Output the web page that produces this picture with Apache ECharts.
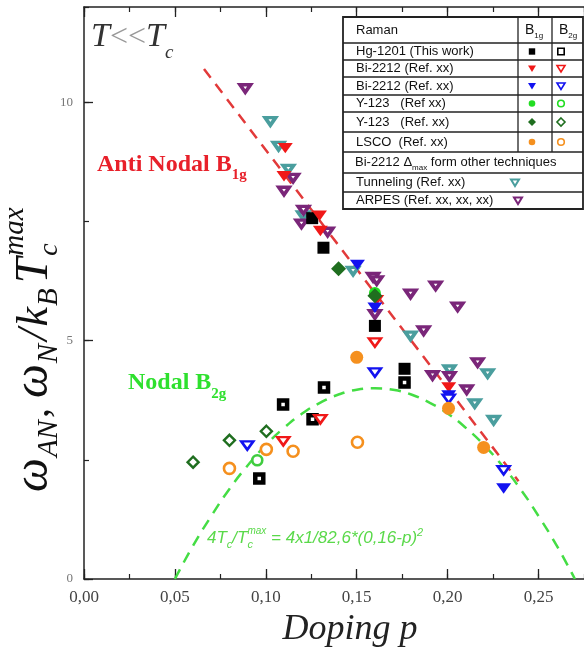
<!DOCTYPE html>
<html><head><meta charset="utf-8">
<script src="https://cdn.jsdelivr.net/npm/echarts@6/dist/echarts.min.js"></script>
<style>html,body{margin:0;padding:0;background:#fff}#c{width:584px;height:655px}</style>
</head><body><div id="c"></div>
<script>
// ---------------- data ----------------
const xTickLabels = ['0,00','0,05','0,10','0,15','0,20','0,25'];
const yTickLabels = ['0','5','10'];
const legendNames = ['Hg-1201 (This work)','Bi-2212 (Ref. xx)','Bi-2212 (Ref. xx)','Y-123   (Ref xx)','Y-123   (Ref. xx)','LSCO  (Ref. xx)'];
const otherNames = ['Tunneling (Ref. xx)','ARPES (Ref. xx, xx, xx)'];

const hgB1g   = [[0.1255,7.57],[0.1317,6.95],[0.160,5.31],[0.1763,4.41]];
const hgB2g   = [[0.132,4.02],[0.1095,3.66],[0.1257,3.35],[0.1763,4.12],[0.0964,2.11]];
const biRedB1g  = [[0.1107,9.04],[0.110,8.45],[0.1295,7.62],[0.130,7.30],[0.161,5.85],[0.2006,4.02]];
const biRedB2g  = [[0.160,4.96],[0.130,3.35],[0.1096,2.89]];
const biBlueB1g = [[0.1504,6.59],[0.160,5.69],[0.2006,3.85],[0.2308,1.90]];
const biBlueB2g = [[0.160,4.33],[0.0898,2.80],[0.2006,3.78],[0.2308,2.28]];
const y123aB1g  = [[0.160,6.0]];
const y123aB2g  = [[0.0953,2.49]];
const y123bB1g  = [[0.140,6.51],[0.160,5.94]];
const y123bB2g  = [[0.1003,3.10],[0.080,2.91],[0.060,2.45]];
const lscoB1g   = [[0.150,4.65],[0.2005,3.58],[0.2198,2.76]];
const lscoB2g   = [[0.1003,2.72],[0.115,2.68],[0.1504,2.87],[0.080,2.32]];
const tunneling = [[0.1025,9.60],[0.107,9.08],[0.1124,8.60],[0.1205,7.62],[0.148,6.46],[0.1796,5.10],[0.201,4.39],[0.222,4.31],[0.2149,3.68],[0.2253,3.33]];
const arpes     = [[0.0887,10.29],[0.115,8.41],[0.110,8.14],[0.1207,7.74],[0.1196,7.45],[0.134,7.28],[0.159,6.33],[0.161,6.26],[0.160,5.55],[0.1796,5.98],[0.1934,6.15],[0.2055,5.71],[0.1868,5.21],[0.1917,4.27],[0.201,4.25],[0.2165,4.54],[0.2105,3.97]];
const antiNodalFit = [[0.066,10.70],[0.239,2.05]];
const nodalFit = [[0.05,0],[0.06,0.70],[0.07,1.32],[0.08,1.89],[0.09,2.38],[0.10,2.81],[0.11,3.17],[0.12,3.47],[0.13,3.70],[0.14,3.87],[0.15,3.97],[0.16,4.00],[0.17,3.97],[0.18,3.87],[0.19,3.70],[0.20,3.47],[0.21,3.17],[0.22,2.81],[0.23,2.38],[0.24,1.89],[0.25,1.32],[0.26,0.70],[0.27,0]];

// ---------------- styles ----------------
const C = {red:'#f01818', blue:'#1212f0', lg:'#22dd22', dg:'#1f6e1f', orange:'#f5901e', teal:'#4a9e9e', purple:'#7a2679', black:'#000'};
const TRI = 'path://M0,0L12,0L6,10Z';
const DIA = 'path://M5,0L10,5L5,10L0,5Z';

function filled(name, data, color, symbol, size){
  return {name, type:'scatter', data, symbol, symbolSize:size, symbolKeepAspect:true,
    itemStyle:{color, opacity:1}, z:5};
}
function open(name, data, color, symbol, size, bw){
  return {name, type:'scatter', data, symbol, symbolSize:size, symbolKeepAspect:true,
    itemStyle:{color:'#fff', borderColor:color, borderWidth:bw, opacity:1}, z:5};
}

const series = [
  {type:'line', data:antiNodalFit, showSymbol:false, symbol:'none', lineStyle:{color:'#e23a3a', width:2.5, type:[11,8]}, z:3},
  {type:'line', data:nodalFit, smooth:true, showSymbol:false, symbol:'none', lineStyle:{color:'#44dd44', width:2.5, type:[11,8]}, z:3},
  open('Tunneling', tunneling, C.teal, TRI, [10.5,9], 3.6),
  open('ARPES', arpes, C.purple, TRI, [10.5,9], 3.6),
  filled('Hg B1g', hgB1g, C.black, 'rect', 12),
  open('Hg B2g', hgB2g, C.black, 'rect', 8, 4.5),
  filled('Bi red B1g', biRedB1g, C.red, TRI, [15,12.5]),
  open('Bi red B2g', biRedB2g, C.red, TRI, [12,10], 2.6),
  filled('Bi blue B1g', biBlueB1g, C.blue, TRI, [15,12.5]),
  open('Bi blue B2g', biBlueB2g, C.blue, TRI, [12,10], 2.6),
  filled('Y123a B1g', y123aB1g, C.lg, 'circle', 12),
  open('Y123a B2g', y123aB2g, '#3fcc3f', 'circle', 10, 2.6),
  filled('Y123b B1g', y123bB1g, C.dg, DIA, 15),
  open('Y123b B2g', y123bB2g, C.dg, DIA, 11, 2.4),
  filled('LSCO B1g', lscoB1g, C.orange, 'circle', 13),
  open('LSCO B2g', lscoB2g, C.orange, 'circle', 11, 2.6)
];

// ---------------- text helpers ----------------
const mctx = document.createElement('canvas').getContext('2d');
function fontStr(p){ return (p.st||'normal')+' '+(p.w||'normal')+' '+p.s+'px '+p.f; }
function tw(t, p){ mctx.font = fontStr(p); return mctx.measureText(t).width; }
function run(pieces, x0, base, color, out){
  let x = x0, lastX = x0;
  pieces.forEach(p => {
    const px = p.stack ? lastX : x;
    out.push({type:'text', x:px, y:base + (p.dy||0) - 0.32*p.s, z:100,
      style:{text:p.t, fontFamily:p.f, fontSize:p.s, fontStyle:p.st||'normal', fontWeight:p.w||'normal',
        fill:p.c||color, align:'left', verticalAlign:'middle'}});
    lastX = px;
    x = Math.max(x, px + tw(p.t, p) + (p.g||0));
  });
  return x;
}
const SERIF = '"Liberation Serif", "Times New Roman", serif';
const SANS = '"Liberation Sans", Arial, sans-serif';

const G = [];
// T<<Tc
run([
  {t:'T', s:34, f:SERIF, st:'italic', c:'#333'},
  {t:'<<', s:32, f:SERIF, c:'#999'},
  {t:'T', s:34, f:SERIF, st:'italic', c:'#333'},
  {t:'c', s:19, f:SERIF, st:'italic', c:'#333', dy:11}
], 91, 48, '#333', G);
// Anti Nodal B1g
run([
  {t:'Anti Nodal B', s:24, f:SERIF, w:'bold'},
  {t:'1g', s:15, f:SERIF, w:'bold', dy:8}
], 97, 172, '#e8202a', G);
// Nodal B2g
run([
  {t:'Nodal B', s:24, f:SERIF, w:'bold'},
  {t:'2g', s:15, f:SERIF, w:'bold', dy:9}
], 128, 390, '#2ee02e', G);
// formula
run([
  {t:'4T', s:17, f:SANS, st:'italic'},
  {t:'c', s:11, f:SANS, st:'italic', dy:4},
  {t:'/T', s:17, f:SANS, st:'italic'},
  {t:'c', s:11, f:SANS, st:'italic', dy:4},
  {t:'max', s:10, f:SANS, st:'italic', dy:-10, stack:true},
  {t:' = 4x1/82,6*(0,16-p)', s:17, f:SANS, st:'italic'},
  {t:'2', s:11, f:SANS, st:'italic', dy:-8}
], 207, 544, '#5ad94a', G);
// x title
(function(){
  const p = {t:'Doping p', s:36, f:SERIF, st:'italic'};
  const w = tw(p.t, p);
  run([p], 350 - w/2, 641, '#222', G);
})();
// y title (rotated)
(function(){
  const kids = [];
  run([
    {t:'ω', s:48, f:SERIF, st:'italic', g:1},
    {t:'AN', s:29, f:SERIF, st:'italic', dy:9, g:2},
    {t:',', s:40, f:SERIF, g:10},
    {t:'ω', s:48, f:SERIF, st:'italic', g:1},
    {t:'N', s:29, f:SERIF, st:'italic', dy:9, g:3},
    {t:'/', s:44, f:SERIF, st:'italic', g:2},
    {t:'k', s:44, f:SERIF, st:'italic', g:1},
    {t:'B', s:29, f:SERIF, st:'italic', dy:9, g:5},
    {t:'T', s:46, f:SERIF, st:'italic', g:2},
    {t:'c', s:28, f:SERIF, st:'italic', dy:9},
    {t:'max', s:29, f:SERIF, st:'italic', dy:-25, stack:true}
  ], 0, 0, '#111', kids);
  G.push({type:'group', x:50, y:492, rotation:Math.PI/2, children:kids, z:100});
})();

// legend table
(function(){
  const L=343, R=583, col1=518, col2=552;
  const rows=[17,43,60,77,95,112,132,152,173,192,209];
  const ln = {stroke:'#222', lineWidth:1.3};
  G.push({type:'rect', shape:{x:L,y:rows[0],width:R-L,height:rows[10]-rows[0]}, style:{fill:'#fff', stroke:'#222', lineWidth:1.8}, z:90});
  for (let i=1;i<10;i++) G.push({type:'line', shape:{x1:L,y1:rows[i],x2:R,y2:rows[i]}, style:ln, z:91});
  G.push({type:'line', shape:{x1:col1,y1:rows[0],x2:col1,y2:rows[7]}, style:ln, z:91});
  G.push({type:'line', shape:{x1:col2,y1:rows[0],x2:col2,y2:rows[7]}, style:ln, z:91});
  const f = {s:13, f:SANS, c:'#111'};
  const mid = i => (rows[i]+rows[i+1])/2;
  run([{t:'Raman', ...f}], 356, mid(0)+4.5, '#111', G);
  run([{t:'B', s:14, f:SANS},{t:'1g', s:8, f:SANS, dy:3}], 525, mid(0)+5, '#111', G);
  run([{t:'B', s:14, f:SANS},{t:'2g', s:8, f:SANS, dy:3}], 559, mid(0)+5, '#111', G);
  legendNames.forEach((n,i)=> run([{t:n, ...f}], 356, mid(i+1)+4.5, '#111', G));
  run([{t:'Bi-2212 ', ...f},{t:'Δ', ...f},{t:'max', s:8, f:SANS, dy:4},{t:' form other techniques', ...f}], 355, mid(7)+4, '#111', G);
  otherNames.forEach((n,i)=> run([{t:n, ...f}], 356, mid(8+i)+4.5, '#111', G));
  // markers
  const mk = (kind, cx, cy, color, isOpen) => {
    const st = isOpen ? {fill:'#fff', stroke:color, lineWidth:1.6} : {fill:color};
    let el;
    if (kind==='sq') el = {type:'rect', shape:{x:cx-3.2,y:cy-3.2,width:6.4,height:6.4}};
    else if (kind==='tri') el = {type:'polygon', shape:{points:[[cx-4,cy-3],[cx+4,cy-3],[cx,cy+3.5]]}};
    else if (kind==='cir') el = {type:'circle', shape:{cx,cy,r:3.3}};
    else el = {type:'polygon', shape:{points:[[cx,cy-4],[cx+4,cy],[cx,cy+4],[cx-4,cy]]}};
    el.style = st; el.z = 95; G.push(el);
  };
  const kinds = [['sq',C.black],['tri',C.red],['tri',C.blue],['cir',C.lg],['dia',C.dg],['cir',C.orange]];
  kinds.forEach((k,i)=>{ mk(k[0],532,mid(i+1),k[1],false); mk(k[0],561,mid(i+1),k[1],true); });
  const mkOT = (cx, cy, color) => G.push({type:'polygon', shape:{points:[[cx-4,cy-3],[cx+4,cy-3],[cx,cy+3.5]]}, style:{fill:'#fff', stroke:color, lineWidth:2}, z:95});
  mkOT(515, mid(8), C.teal);
  mkOT(518, mid(9), C.purple);
})();

// ---------------- chart ----------------
const axLine = {show:true, onZero:false, lineStyle:{color:'#222', width:1.5}};
const noLine = {show:false, onZero:false};
const grid = {left:84, top:7, right:0, bottom:76, containLabel:false};
const chart = echarts.init(document.getElementById('c'), null, {renderer:'canvas'});
chart.setOption({
  animation:false,
  backgroundColor:'#fff',
  grid:[Object.assign({},grid), Object.assign({},grid)],
  xAxis:[
    {gridIndex:0, type:'value', position:'bottom', min:0, max:0.275, interval:0.05, axisLine:axLine,
      axisTick:{inside:true, length:10, lineStyle:{color:'#222', width:1.3}}, splitLine:{show:false},
      axisLabel:{margin:10, fontFamily:SERIF, fontSize:17, color:'#444', showMaxLabel:false,
        formatter:v=>{const i=Math.round(v/0.05); return Math.abs(v-i*0.05)<1e-9 ? (xTickLabels[i]||'') : '';}}},
    {gridIndex:0, type:'value', position:'top', min:0, max:0.275, interval:0.05, axisLine:axLine,
      axisTick:{inside:true, length:10, lineStyle:{color:'#222', width:1.3}}, splitLine:{show:false}, axisLabel:{show:false}},
    {gridIndex:1, type:'value', position:'bottom', min:0, max:0.275, interval:0.025, axisLine:noLine,
      axisTick:{inside:true, length:5, lineStyle:{color:'#222', width:1.2}}, splitLine:{show:false}, axisLabel:{show:false}},
    {gridIndex:1, type:'value', position:'top', min:0, max:0.275, interval:0.025, axisLine:noLine,
      axisTick:{inside:true, length:5, lineStyle:{color:'#222', width:1.2}}, splitLine:{show:false}, axisLabel:{show:false}}
  ],
  yAxis:[
    {gridIndex:0, type:'value', position:'left', min:0, max:12, interval:5, axisLine:axLine,
      axisTick:{inside:true, length:9, lineStyle:{color:'#222', width:1.3}}, splitLine:{show:false},
      axisLabel:{margin:11, fontFamily:SERIF, fontSize:13, color:'#777', showMaxLabel:false,
        formatter:v=>{const i=Math.round(v/5); return Math.abs(v-i*5)<1e-9 ? (yTickLabels[i]||'') : '';}}},
    {gridIndex:1, type:'value', position:'left', min:0, max:12, interval:2.5, axisLine:noLine,
      axisTick:{inside:true, length:5, lineStyle:{color:'#222', width:1.2}}, splitLine:{show:false}, axisLabel:{show:false}}
  ],
  series: series.map(s => Object.assign({xAxisIndex:0, yAxisIndex:0}, s)),
  graphic:{elements:G}
});
</script></body></html>
